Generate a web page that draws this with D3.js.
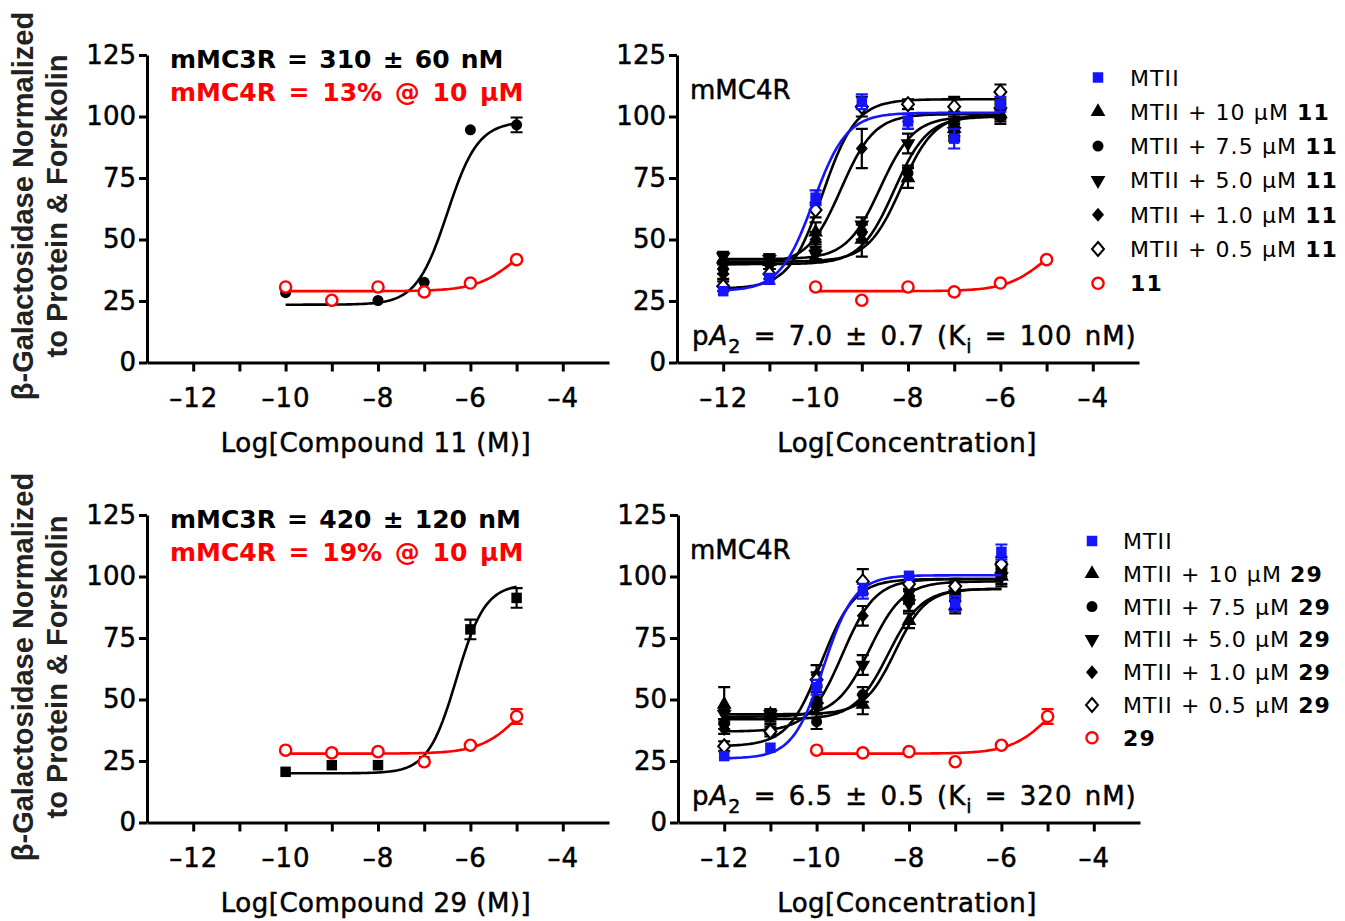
<!DOCTYPE html>
<html>
<head>
<meta charset="utf-8">
<script src="https://cdn.jsdelivr.net/npm/d3@7"></script>
<style>
  body { margin: 0; background: #fff; }
  svg { display: block; }
</style>
</head>
<body>
<div id="chart"></div>
<script>
// log[M] concentrations
const logConcCmpd = [-10, -9, -8, -7, -6, -5];
const logConcMTII = [-12, -11, -10, -9, -8, -7, -6];

// compound 11, single-dose-response (top left)
const mc3r11 = [28.4, 25.0, 25.2, 32.6, 94.6, 96.6];
const mc3r11Err = [0, 0, 0, 0, 0, 3];
const mc4r11 = [30.7, 25.3, 30.7, 28.7, 32.3, 41.8];
const mc4r11Err = [0, 0, 0, 0, 0, 0];

// compound 29, single-dose-response (bottom left)
const mc3r29 = [20.6, 23.3, 23.3, 24.9, 78.5, 91.3];
const mc3r29Err = [0, 0, 0, 0, 4, 4];
const mc4r29 = [29.4, 28.3, 28.8, 24.7, 31.4, 43.1];
const mc4r29Err = [0, 0, 0, 0, 0, 3];

// fits: [bottom, top, logEC50, hill]
const fitMc3r11 = [23.5, 98, -6.5, 1.3];
const fitMc4r11 = [29, 55, -5.0, 1];
const fitMc3r29 = [20, 97, -6.3, 1.4];
const fitMc4r29 = [28, 60, -4.9, 1];

// Schild panels: MTII alone, then MTII + antagonist doses
const seriesNames = ["MTII", "10", "7.5", "5.0", "1.0", "0.5"];
const seriesSymbols = ["square", "triangle", "circle", "triangleDown", "diamond", "diamondOpen"];

const schild11 = [
  [29, 34, 67, 106, 98, 91, 105],
  [42, 41, 53, 50, 75, 95, 101],
  [38, 40, 45, 53, 77, 93, 100],
  [43, 42, 44, 56, 89, 94, 102],
  [36, 40, 50, 87, 98, 97, 103],
  [31, 36, 62, 104, 105, 104, 110]
];
const schild11Err = [
  [0, 2, 3, 3, 3, 4, 3],
  [2, 3, 4, 7, 4, 3, 3],
  [2, 2, 3, 3, 3, 3, 3],
  [2, 2, 2, 3, 4, 3, 3],
  [2, 2, 3, 8, 3, 5, 3],
  [2, 2, 3, 4, 2, 4, 3]
];
const schild11Fit = [
  [29, 101.5, -10.05, 1.2],
  [41, 101, -8.15, 1.2],
  [40, 100, -8.3, 1.2],
  [42, 100, -8.6, 1.2],
  [40, 101, -9.45, 1.2],
  [30, 107, -9.85, 1.2]
];

const schild29 = [
  [27, 30.4, 55, 94, 100.3, 89, 110],
  [48, 44, 50, 48, 82, 88, 100],
  [40, 43, 41, 52, 92, 93, 103],
  [44, 44, 47, 64, 89, 93, 100],
  [38, 38, 60, 84, 94, 95, 102],
  [31, 37, 58, 98, 97, 96, 105]
];
const schild29Err = [
  [0, 0, 3, 3, 0, 3, 3],
  [7, 2, 3, 4, 3, 3, 4],
  [2, 2, 3, 3, 3, 3, 3],
  [2, 2, 3, 4, 3, 3, 3],
  [2, 2, 4, 4, 3, 3, 3],
  [2, 2, 3, 5, 3, 3, 3]
];
const schild29Fit = [
  [26, 100.5, -9.85, 1.3],
  [44, 95, -8.3, 1.3],
  [42, 95, -8.45, 1.2],
  [43, 98, -8.85, 1.2],
  [37, 99, -9.45, 1.2],
  [31, 99, -9.9, 1.2]
];

const yTicks = [0, 25, 50, 75, 100, 125];
const xTicks = [-12, -11, -10, -9, -8, -7, -6, -5, -4];

const BLACK = "#000", RED = "#ff0000", BLUE = "#1414ff";
const COMIC = "'DejaVu Sans', sans-serif";

const svg = d3.select("#chart").append("svg")
  .attr("width", 1345).attr("height", 921)
  .style("font-family", COMIC);

function logistic(p) {
  return x => p[0] + (p[1] - p[0]) / (1 + Math.pow(10, (p[2] - x) * p[3]));
}

function symbolPath(kind, size) {
  if (kind === "diamond" || kind === "diamondOpen") {
    return "M0,-7L6,0L0,7L-6,0Z";
  }
  const map = { square: d3.symbolSquare, triangle: d3.symbolTriangle, circle: d3.symbolCircle, triangleDown: d3.symbolTriangle };
  return d3.symbol().type(map[kind]).size(size)();
}

function drawMarker(g, kind, cx, cy, color) {
  if (kind === "openCircle") {
    g.append("circle").attr("cx", cx).attr("cy", cy).attr("r", 5.6)
      .attr("fill", "#fff").attr("stroke", color).attr("stroke-width", 2.4);
    return;
  }
  const sizes = { square: 110, triangle: 95, circle: 95, triangleDown: 95 };
  const p = g.append("path").attr("d", symbolPath(kind, sizes[kind]))
    .attr("transform", `translate(${cx},${cy})` + (kind === "triangleDown" ? " rotate(180)" : ""));
  if (kind === "diamondOpen") p.attr("fill", "#fff").attr("stroke", color).attr("stroke-width", 2);
  else p.attr("fill", color);
}

function makePanel(box) {
  const x = d3.scaleLinear().domain([-13, -3]).range([box.x0, box.x1]);
  const y = d3.scaleLinear().domain([0, 125]).range([box.yb, box.yt]);
  const g = svg.append("g");

  const ya = g.append("g").attr("transform", `translate(${box.x0},0)`)
    .call(d3.axisLeft(y).tickValues(yTicks).tickSize(8).tickPadding(3).tickSizeOuter(0));
  const xa = g.append("g").attr("transform", `translate(0,${box.yb})`)
    .call(d3.axisBottom(x).tickValues(xTicks).tickSize(9).tickSizeOuter(0)
      .tickFormat(d => d % 2 === 0 ? "\u2013" + Math.abs(d) : ""));
  [ya, xa].forEach(a => {
    a.select(".domain").attr("stroke", BLACK).attr("stroke-width", 3);
    a.selectAll(".tick line").attr("stroke", BLACK).attr("stroke-width", 3);
    a.attr("font-family", COMIC).attr("font-size", 26);
    a.selectAll("text").attr("fill", BLACK).attr("stroke", BLACK).attr("stroke-width", 0.5);
  });
  xa.selectAll(".tick text").attr("y", 26).attr("dy", "0.71em").attr("letter-spacing", 1);
  return { g, x, y };
}

function drawSeries(p, xs, ys, errs, fit, kind, color, curveRange) {
  const g = p.g.append("g");
  const f = logistic(fit);
  const xsCurve = d3.range(curveRange[0], curveRange[1] + 0.001, 0.05);
  g.append("path")
    .attr("d", d3.line().x(d => p.x(d)).y(d => p.y(f(d)))(xsCurve))
    .attr("fill", "none").attr("stroke", color).attr("stroke-width", 2.6);
  xs.forEach((xv, i) => {
    const e = errs[i];
    if (e > 0) {
      const cx = p.x(xv);
      g.append("path")
        .attr("d", `M${cx},${p.y(ys[i] - e)}V${p.y(ys[i] + e)}M${cx - 6},${p.y(ys[i] + e)}H${cx + 6}M${cx - 6},${p.y(ys[i] - e)}H${cx + 6}`)
        .attr("stroke", color).attr("stroke-width", 2.2).attr("fill", "none");
    }
  });
  xs.forEach((xv, i) => drawMarker(g, kind, p.x(xv), p.y(ys[i]), color));
}

function yLabel(cy) {
  const t = svg.append("g").attr("font-family", "'Liberation Sans', Arial, sans-serif")
    .attr("font-weight", "bold").attr("font-size", 29).attr("fill", "#222");
  t.append("text").attr("transform", `translate(33,${cy}) rotate(-90)`)
    .attr("text-anchor", "middle").text("\u03b2-Galactosidase Normalized");
  t.append("text").attr("transform", `translate(67,${cy}) rotate(-90)`)
    .attr("text-anchor", "middle").text("to Protein & Forskolin");
}

function xTitle(cx, by, txt) {
  svg.append("text").attr("x", cx).attr("y", by).attr("text-anchor", "middle")
    .attr("font-size", 26).attr("letter-spacing", 0.5).attr("fill", BLACK)
    .attr("stroke", BLACK).attr("stroke-width", 0.5).text(txt);
}

function pA2Text(x0, by, value, ki) {
  const t = svg.append("text").attr("x", x0).attr("y", by).attr("font-size", 26)
    .attr("fill", BLACK).attr("stroke", BLACK).attr("stroke-width", 0.5)
    .attr("letter-spacing", 1).attr("word-spacing", 3);
  t.append("tspan").text("p");
  t.append("tspan").attr("font-style", "italic").text("A");
  t.append("tspan").attr("font-size", 19).attr("dy", 8).text("2");
  t.append("tspan").attr("dy", -8).text(` = ${value} (K`);
  t.append("tspan").attr("font-size", 19).attr("dy", 8).text("i");
  t.append("tspan").attr("dy", -8).text(` = ${ki} nM)`);
}

function legend(x0, tx, y0, step, cmpd) {
  const g = svg.append("g");
  const labels = ["MTII"].concat(seriesNames.slice(1).map(d => `MTII + ${d} \u03bcM `));
  labels.forEach((lab, i) => {
    const cy = y0 + i * step;
    drawMarker(g, seriesSymbols[i], x0, cy, i === 0 ? BLUE : BLACK);
    const t = g.append("text").attr("x", tx).attr("y", cy + 8).attr("font-size", 22)
      .attr("fill", BLACK).attr("letter-spacing", 1.1);
    t.append("tspan").text(lab);
    if (i > 0) t.append("tspan").attr("font-weight", "bold").text(cmpd);
  });
  const cy = y0 + 6 * step;
  drawMarker(g, "openCircle", x0, cy, RED);
  g.append("text").attr("x", tx).attr("y", cy + 8).attr("font-size", 22)
    .attr("font-weight", "bold").attr("fill", BLACK).attr("letter-spacing", 1.1).text(cmpd);
}

function selectivityPanel(box, mc3r, mc3rErr, mc3rFit, mc4r, mc4rErr, mc4rFit, kind, line1, line2, cmpd) {
  const p = makePanel(box);
  drawSeries(p, logConcCmpd, mc3r, mc3rErr, mc3rFit, kind, BLACK, [-10, -5]);
  drawSeries(p, logConcCmpd, mc4r, mc4rErr, mc4rFit, "openCircle", RED, [-10, -5]);
  svg.append("text").attr("x", 170).attr("y", box.yt + 12.5).attr("font-size", 25)
    .attr("font-weight", "bold").attr("fill", BLACK).attr("word-spacing", 2.5).text(line1);
  svg.append("text").attr("x", 170).attr("y", box.yt + 45.5).attr("font-size", 25)
    .attr("font-weight", "bold").attr("fill", RED).attr("word-spacing", 4).text(line2);
  xTitle(376, box.yb + 89.5, `Log[Compound ${cmpd} (M)]`);
}

function schildPanel(box, vals, errs, fits, redVals, redErrs, redFit, pa2, ki) {
  const p = makePanel(box);
  for (let i = 1; i < vals.length; i++) {
    drawSeries(p, logConcMTII, vals[i], errs[i], fits[i], seriesSymbols[i], BLACK, [-12, -6]);
  }
  drawSeries(p, logConcMTII, vals[0], errs[0], fits[0], seriesSymbols[0], BLUE, [-12, -6]);
  drawSeries(p, logConcCmpd, redVals, redErrs, redFit, "openCircle", RED, [-10, -5]);
  svg.append("text").attr("x", 690).attr("y", box.yt + 44).attr("font-size", 26)
    .attr("fill", BLACK).attr("stroke", BLACK).attr("stroke-width", 0.5).text("mMC4R");
  pA2Text(692, box.yb - 17.5, pa2, ki);
  xTitle(907, box.yb + 89.5, "Log[Concentration]");
}

// top row: compound 11
yLabel(206);
selectivityPanel({ x0: 147, x1: 609, yt: 55, yb: 362.5 }, mc3r11, mc3r11Err, fitMc3r11,
  mc4r11, mc4r11Err, fitMc4r11, "circle",
  "mMC3R = 310 \u00b1 60 nM", "mMC4R = 13% @ 10 \u03bcM", "11");
schildPanel({ x0: 677, x1: 1139, yt: 55, yb: 362.5 }, schild11, schild11Err, schild11Fit,
  mc4r11, mc4r11Err, fitMc4r11, "7.0 \u00b1 0.7", "100");
legend(1098, 1130, 77.5, 34.3, "11");

// bottom row: compound 29
yLabel(667);
selectivityPanel({ x0: 147, x1: 609, yt: 515, yb: 822.5 }, mc3r29, mc3r29Err, fitMc3r29,
  mc4r29, mc4r29Err, fitMc4r29, "square",
  "mMC3R = 420 \u00b1 120 nM", "mMC4R = 19% @ 10 \u03bcM", "29");
schildPanel({ x0: 678, x1: 1140, yt: 515, yb: 822.5 }, schild29, schild29Err, schild29Fit,
  mc4r29, mc4r29Err, fitMc4r29, "6.5 \u00b1 0.5", "320");
legend(1092, 1123, 541, 32.8, "29");
</script>
</body>
</html>
